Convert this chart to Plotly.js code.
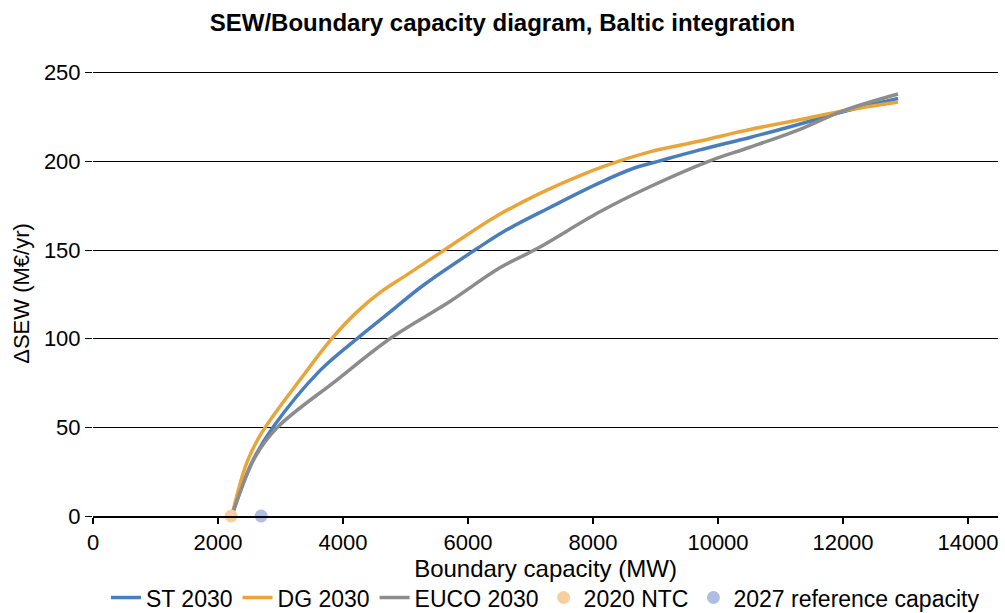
<!DOCTYPE html>
<html>
<head>
<meta charset="utf-8">
<script src="https://cdn.plot.ly/plotly-3.0.1.min.js"></script>
<style>html,body{margin:0;padding:0;background:#fff;}#chart{width:1005px;height:613px;}</style>
</head>
<body>
<div id="chart"></div>
<script>
// Data
const stX   = [2220, 2540, 2880, 3630, 4240, 4750, 5280, 6140, 6600, 7310, 8110, 8640, 9070, 9710, 10510, 11300, 12000, 12880];
const stY   = [0, 30, 50, 82, 100.5, 115, 130, 150.7, 161, 174, 188, 196, 200.3, 206.5, 213.5, 221, 228, 235.5];
const dgX   = [2220, 2460, 2700, 3370, 3820, 4220, 4590, 5020, 5600, 6400, 7150, 7900, 8430, 8910, 9710, 10510, 11300, 12000, 12880];
const dgY   = [0, 30, 47, 79.5, 100, 115, 126, 136, 149.5, 168, 182, 193.6, 200.3, 205.4, 211.5, 218, 223.5, 228.5, 233.5];
const eucoX = [2220, 2590, 2950, 3900, 4750, 5710, 6510, 7100, 8110, 8910, 9870, 10510, 11300, 12000, 12880];
const eucoY = [0, 33, 50, 76.7, 100, 121, 140, 150.7, 171.6, 185.7, 200.3, 208, 218, 228.5, 238];
const ntcX = [2210], ntcY = [0];
const refX = [2690], refY = [0];
const xTicks = [0, 2000, 4000, 6000, 8000, 10000, 12000, 14000];
const yTicks = [0, 50, 100, 150, 200, 250];

const font = "Liberation Sans, Arial, sans-serif";
const lineTrace = (x, y, name, color) => ({
  x, y, name, type: 'scatter', mode: 'lines',
  line: {color, width: 3.5, shape: 'spline', smoothing: 1},
  cliponaxis: false
});
const data = [
  lineTrace(stX, stY, 'ST 2030', '#4a7ebb'),
  lineTrace(dgX, dgY, 'DG 2030', '#e9a43a'),
  lineTrace(eucoX, eucoY, 'EUCO 2030', '#8c8c8c'),
  {x: ntcX, y: ntcY, name: '2020 NTC', type: 'scatter', mode: 'markers',
   marker: {color: '#f5d09e', size: 13}, cliponaxis: false},
  {x: refX, y: refY, name: '2027 reference capacity', type: 'scatter', mode: 'markers',
   marker: {color: '#adbde3', size: 13}, cliponaxis: false}
];
const layout = {
  width: 1005, height: 613,
  margin: {l: 93, r: 7, t: 71, b: 97, autoexpand: false},
  paper_bgcolor: '#fff', plot_bgcolor: '#fff',
  font: {family: font, size: 22, color: '#000'},
  title: {text: '<b>SEW/Boundary capacity diagram, Baltic integration</b>',
          font: {family: font, size: 24, color: '#000'}, x: 0.5, xanchor: 'center', y: 0.963, yanchor: 'middle'},
  xaxis: {range: [0, 14480], tickvals: xTicks, ticktext: xTicks.map(String),
          showgrid: false, zeroline: false, showline: true, linecolor: '#000', linewidth: 2,
          ticks: 'outside', ticklen: 6, tickwidth: 2, tickcolor: '#000', automargin: false,
          tickfont: {family: font, size: 22},
          title: {text: 'Boundary capacity (MW)', font: {family: font, size: 24}, standoff: 0}},
  yaxis: {range: [0, 251], tickvals: yTicks, ticktext: yTicks.map(String),
          showgrid: true, gridcolor: '#000', gridwidth: 1, zeroline: false, showline: false,
          ticks: 'outside', ticklen: 7, tickwidth: 1, tickcolor: '#000', automargin: false,
          tickfont: {family: font, size: 22},
          title: {text: 'ΔSEW (M€/yr)', font: {family: font, size: 22}, standoff: 8}},
  legend: {orientation: 'h', x: 0.5, xanchor: 'center', y: -0.135, yanchor: 'top',
           font: {family: font, size: 23}, itemwidth: 30, tracegroupgap: 0},
  showlegend: true
};
Plotly.newPlot('chart', data, layout, {displayModeBar: false, staticPlot: true});
</script>
</body>
</html>
